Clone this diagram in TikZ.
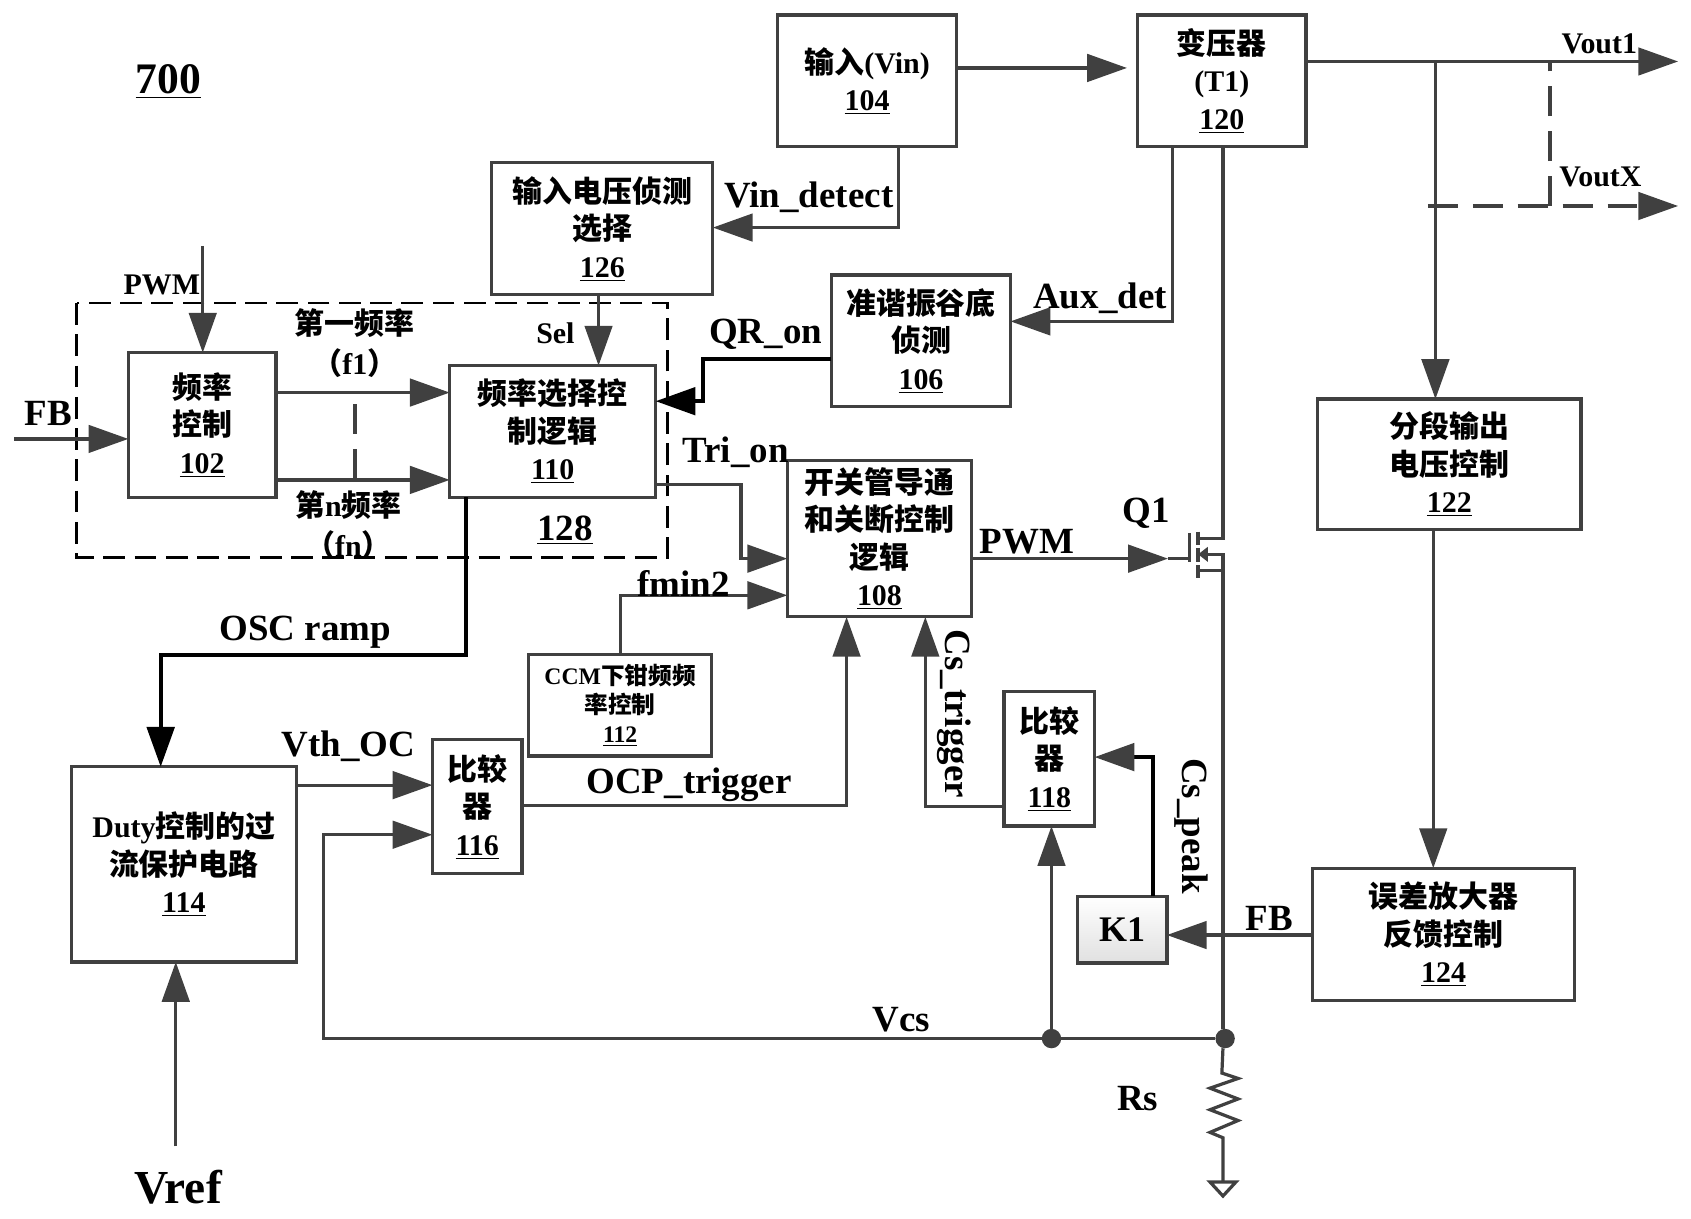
\documentclass[tikz,border=0pt]{standalone}
\usepackage{fontspec}
\setmainfont{Liberation Serif}
\newfontfamily\cjk{Noto Sans CJK SC}
\usetikzlibrary{arrows.meta}
\usepackage{xcolor}
\definecolor{wiregray}{HTML}{404040}
\newcommand{\cn}[1]{{\cjk #1}}
\tikzset{
	boxsz/.style 2 args={minimum width=#1*.02cm,minimum height=#2*.02cm},
	blk/.style={draw=wiregray,line width=1.7pt,inner sep=0pt,outer sep=0pt,align=center,font=\fontsize{15.8}{19.8}\selectfont\bfseries},
	lbl/.style={inner sep=0pt,yshift=-1.1pt,font=\fontsize{19.5}{21}\selectfont\bfseries},
	lbs/.style={inner sep=0pt,font=\fontsize{15.8}{20}\selectfont\bfseries},
	sig/.style={draw=wiregray,line width=1.7pt,-{Triangle[length=21pt,width=14.5pt]}},
	sigk/.style={draw=black,line width=2pt,-{Triangle[length=21pt,width=14.5pt]}},
	sigh/.style={draw=black,line width=2pt,-{Triangle[length=21pt,width=14.5pt,color=wiregray]}},
	wire/.style={draw=wiregray,line width=1.7pt},
	dsh/.style={draw=wiregray,line width=1.9pt,dash pattern=on 15.8pt off 7.9pt},
	dshb/.style={draw=black,line width=1.4pt,dash pattern=on 11.5pt off 5pt},
	dot/.style={circle,fill=wiregray,inner sep=0pt,outer sep=0pt,minimum size=.36cm}
}
\begin{document}
\begin{tikzpicture}[x=.02cm,y=-.02cm]
		\useasboundingbox (0,0) rectangle (1568,1129.4);
		\node[inner sep=0pt,font=\fontsize{23}{25}\selectfont\bfseries] (fig) at (156,75.5) {\underline{700}};
		%
		\node[blk,boxsz={166}{122}] (vin) at (804,75) {\cn{输入}(Vin)\\\underline{104}};
		\node[blk,boxsz={156}{122}] (t1) at (1133,75) {\cn{变压器}\\(T1)\\\underline{120}};
		\node[blk,boxsz={205}{122}] (det) at (558.5,212) {\cn{输入电压侦测}\\\cn{选择}\\\underline{126}};
		\node[blk,boxsz={166}{122}] (qr) at (854,316) {\cn{准谐振谷底}\\\cn{侦测}\\\underline{106}};
		\node[blk,boxsz={137}{134}] (freq) at (187.5,394) {\cn{频率}\\\cn{控制}\\\underline{102}};
		\node[blk,boxsz={191}{122}] (sel) at (512.5,400) {\cn{频率选择控}\\\cn{制逻辑}\\\underline{110}};
		\node[blk,boxsz={171}{145}] (sw) at (815.5,499.5) {\cn{开关管导通}\\\cn{和关断控制}\\\cn{逻辑}\\\underline{108}};
		\node[blk,boxsz={170}{94},font=\fontsize{12.5}{15.3}\selectfont\bfseries] (ccm) at (575,654) {CCM\cn{下钳频频}\\\cn{率控制}\\\underline{112}};
		\node[blk,boxsz={209}{181}] (ocp) at (170.5,801.5) {Duty\cn{控制的过}\\\cn{流保护电路}\\\underline{114}};
		\node[blk,boxsz={83}{124}] (cmpa) at (442.5,748) {\cn{比较}\\\cn{器}\\\underline{116}};
		\node[blk,boxsz={84}{125}] (cmpb) at (973,703.5) {\cn{比较}\\\cn{器}\\\underline{118}};
		\node[blk,boxsz={83}{62},top color=white,bottom color=black!12,font=\fontsize{19}{20}\selectfont\bfseries] (kone) at (1040.5,862) {\raisebox{-1pt}{K1}};
		\node[blk,boxsz={244}{121}] (seg) at (1344,430.5) {\cn{分段输出}\\\cn{电压控制}\\\underline{122}};
		\node[blk,boxsz={243}{123}] (err) at (1338.5,866.5) {\cn{误差放大器}\\\cn{反馈控制}\\\underline{124}};
		%
		\draw[dshb] (71,281) rectangle (619,517);
		\node[lbl] (lsel) at (524,490) {\underline{128}};
		%
		\coordinate (voa) at (1556,57);
		\coordinate (vob) at (1556,191);
		\coordinate (gnd) at (1134,1096);
		\coordinate (gate) at (1103,518);
		\coordinate (dra) at (1134,499);
		\coordinate (src) at (1134,514);
		\coordinate (pwmin) at (188,228);
		\coordinate (fbin) at (13,407);
		\coordinate (vrefin) at (163,1063);
		\node[dot] (jcmp) at (975,963) {};
		\node[dot] (jrs) at (1136,963) {};
		%
		\draw[sig] (vin.east |- 0,63) -- (1045,63);
		\draw[sig] (t1.east |- voa) -- (voa);
		\draw[sig] (1331,57) -- (seg.north -| 1331,0);
		\draw[sig] (seg.south -| 1329,0) -- (err.north -| 1329,0);
		\draw[dsh] (1437,191) -- (1437,57);
		\draw[dsh] (1324,191) -- (1520,191);
		\draw[sig] (1520,191) -- (vob);
		%
		\draw[sig] (vin.south -| 833,0) -- (833,211) -- (det.east |- 0,211);
		\draw[sig] (t1.south -| 1087,0) -- (1087,298) -- (qr.east |- 0,298);
		\draw[sigk] (qr.west |- 0,333) -- (652,333) -- (652,372) -- (sel.east |- 0,372);
		\draw[sig] (det.south -| 555,0) -- (sel.north -| 555,0);
		\draw[sig] (pwmin) -- (freq.north -| pwmin);
		\draw[sig] (fbin) -- (freq.west |- fbin);
		\draw[sig] (freq.east |- 0,364) -- (sel.west |- 0,364);
		\draw[sig] (freq.east |- 0,445) -- (sel.west |- 0,445);
		\draw[dsh] (329,375) -- (329,445);
		%
		\draw[sig] (sel.east |- 0,449) -- (687,449) -- (687,518) -- (sw.west |- 0,518);
		\draw[sig] (ccm.north -| 575,0) -- (575,552) -- (sw.west |- 0,552);
		\draw[sigk] (sel.south -| 432,0) -- (432,607) -- (149,607) -- (ocp.north -| 149,0);
		\draw[sig] (vrefin) -- (ocp.south -| vrefin);
		\draw[sig] (ocp.east |- 0,728) -- (cmpa.west |- 0,728);
		\draw[sig] (jcmp) -- (300,963) -- (300,774) -- (cmpa.west |- 0,774);
		\draw[sig] (cmpa.east |- 0,747) -- (785,747) -- (sw.south -| 785,0);
		\draw[sig] (cmpb.west |- 0,748) -- (858,748) -- (sw.south -| 858,0);
		\draw[sig] (jcmp) -- (cmpb.south -| jcmp);
		\draw[sigh] (kone.north -| 1069,0) -- (1069,702) -- (cmpb.east |- 0,702);
		\draw[sig] (err.west |- 0,867) -- (kone.east |- 0,867);
		\draw[wire] (jcmp) -- (jrs);
		%
		\draw[sig] (sw.east |- gate) -- (1083,518);
		\draw[wire] (1083,518) -- (gate);
		\draw[wire,line width=2pt] (1103,494) -- (1103,521);
		\draw[wire,line width=2pt] (1111,493) -- (1111,505) (1111,508) -- (1111,521) (1111,524) -- (1111,536);
		\draw[wire] (t1.south -| dra) -- (dra) -- (1111,499);
		\draw[wire] (1111,529) -- (1134,529);
		\draw[wire] (1112,514) -- (src) -- (jrs.north -| src);
		\fill[wiregray] (1111,514) -- (1120,507) -- (1120,521) -- cycle;
		%
		\draw[wire] (jrs.south -| 1134,0) -- (1133,995) -- (1148,1000) -- (1122,1009) -- (1148,1019) -- (1122,1029) -- (1148,1039) -- (1122,1050) -- (1134,1055) -- (gnd);
		\draw[wire] (1122,1096) -- (1146,1096) -- (1134,1109) -- cycle;
		%
		\node[lbl] (lvdet) at (750,181) {Vin\_detect};
		\node[lbl] (laux) at (1020,275) {Aux\_det};
		\node[lbl] (lqr) at (710,308) {QR\_on};
		\node[lbl] (ltri) at (682,417) {Tri\_on};
		\node[lbl] (lfmin) at (634,539) {fmin2};
		\node[lbl] (lpwm) at (952,500) {PWM};
		\node[lbl] (lqone) at (1063,474) {Q1};
		\node[lbl] (losc) at (283,584) {OSC ramp};
		\node[lbl] (lvth) at (323,690) {Vth\_OC};
		\node[lbl] (locp) at (639,726) {OCP\_trigger};
		\node[lbl] (lvcs) at (836,944) {Vcs};
		\node[lbl] (lrs) at (1055,1017) {Rs};
		\node[lbl] (lfbb) at (1177,850) {FB};
		\node[lbl] (lfba) at (45,381) {FB};
		\node[lbl,rotate=-90,xshift=1.1pt] (lcst) at (885,658) {Cs\_trigger};
		\node[lbl,rotate=-90,xshift=1.1pt] (lcsp) at (1105,762) {Cs\_peak};
		\node[inner sep=0pt,font=\fontsize{25}{27}\selectfont\bfseries] (lvref) at (165,1101) {Vref};
		\node[lbs] (lpwms) at (150,264) {PWM};
		\node[lbs] (lsels) at (515,309) {Sel};
		\node[lbs] (lvoa) at (1483,41) {Vout1};
		\node[lbs] (lvob) at (1484,164) {VoutX};
		\node[lbs] (lfa) at (329,300) {\cn{第一频率}};
		\node[lbs] (lfb) at (329,337) {\cn{（}f1\cn{）}};
		\node[lbs] (lfc) at (323,468) {\cn{第}n\cn{频率}};
		\node[lbs] (lfd) at (323,505) {\cn{（}fn\cn{）}};
	\end{tikzpicture}
\end{document}
